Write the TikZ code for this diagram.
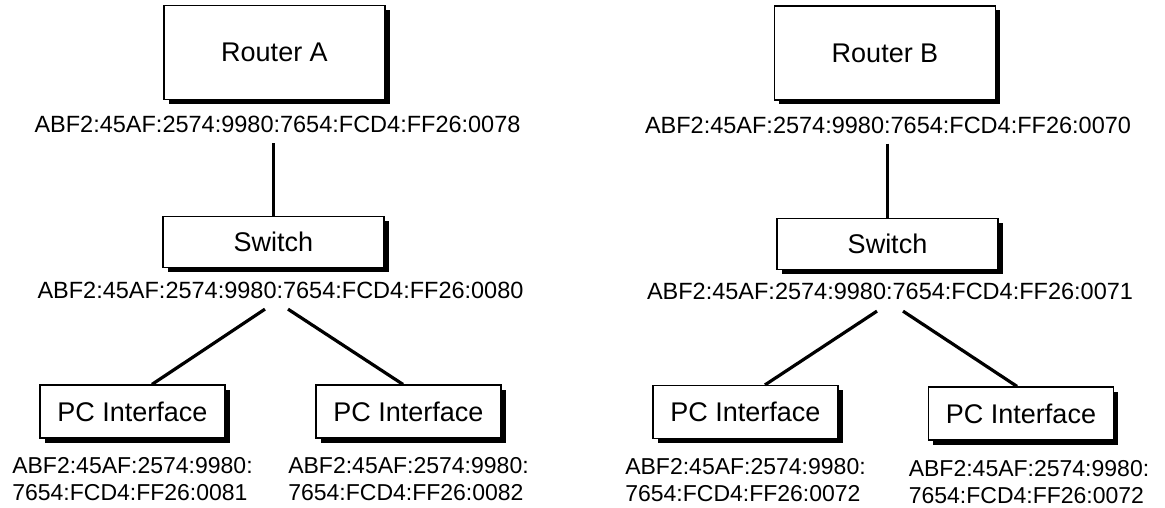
\documentclass[tikz,border=0pt]{standalone}
\usepackage{fontspec}
\setmainfont{Liberation Sans}
\usetikzlibrary{positioning,shadows}

\begin{document}
\begin{tikzpicture}[
    x=1pt, y=1pt,
    device/.style={draw=black, line width=1.2pt, fill=white, inner sep=0pt,
        drop shadow={shadow xshift=4.5pt, shadow yshift=-4.5pt, fill=black, opacity=1},
        font=\fontsize{27}{32}\selectfont},
    router/.style={device, minimum width=221pt, minimum height=94pt},
    switchbox/.style={device, minimum width=221pt, minimum height=51pt},
    pcbox/.style={device, minimum width=185pt, minimum height=53pt},
    addr/.style={inner sep=0pt, font=\fontsize{23.5}{27}\selectfont},
    pcaddr/.style={inner sep=0pt, align=left, font=\fontsize{23}{27}\selectfont},
    link/.style={line width=3.2pt}
]
\useasboundingbox (0,0) rectangle (1165,-508);

% network A
\node[router] (routerA) at (274.5,-52.5) {Router A};
\node[addr, below=16pt of routerA, xshift=3pt] (addrRA) {ABF2:45AF:2574:9980:7654:FCD4:FF26:0078};
\node[switchbox] (switchA) at (273.5,-242) {Switch};
\node[addr, below=14pt of switchA, xshift=7pt] (addrSA) {ABF2:45AF:2574:9980:7654:FCD4:FF26:0080};
\node[pcbox] (pcA1) at (132.5,-411.5) {PC Interface};
\node[pcbox] (pcA2) at (408.5,-411.5) {PC Interface};
\node[pcaddr, below=19pt of pcA1] (addrPA1) {ABF2:45AF:2574:9980:\\7654:FCD4:FF26:0081};
\node[pcaddr, below=19pt of pcA2] (addrPA2) {ABF2:45AF:2574:9980:\\7654:FCD4:FF26:0082};

\coordinate (upA) at ([yshift=-10pt]addrRA.south);
\coordinate (fanA1) at ([xshift=-15.5pt,yshift=-10pt]addrSA.south);
\coordinate (fanA2) at ([xshift=7.5pt,yshift=-10pt]addrSA.south);
\draw[link] (upA -| switchA.north) -- (switchA.north);
\draw[link] (fanA1) -- ([xshift=19.5pt]pcA1.north);
\draw[link] (fanA2) -- ([xshift=-5.5pt]pcA2.north);

% network B
\node[router] (routerB) at (885,-53) {Router B};
\node[addr, below=16pt of routerB, xshift=3pt] (addrRB) {ABF2:45AF:2574:9980:7654:FCD4:FF26:0070};
\node[switchbox] (switchB) at (887.5,-244) {Switch};
\node[addr, below=13pt of switchB, xshift=2.5pt] (addrSB) {ABF2:45AF:2574:9980:7654:FCD4:FF26:0071};
\node[pcbox] (pcB1) at (745.5,-412) {PC Interface};
\node[pcbox] (pcB2) at (1021,-413.5) {PC Interface};
\node[pcaddr, below=19pt of pcB1] (addrPB1) {ABF2:45AF:2574:9980:\\7654:FCD4:FF26:0072};
\node[pcaddr, below=20pt of pcB2, xshift=8pt] (addrPB2) {ABF2:45AF:2574:9980:\\7654:FCD4:FF26:0072};

\coordinate (upB) at ([yshift=-10pt]addrRB.south);
\coordinate (fanB1) at ([xshift=-13pt,yshift=-11pt]addrSB.south);
\coordinate (fanB2) at ([xshift=13pt,yshift=-11pt]addrSB.south);
\draw[link] (upB -| switchB.north) -- (switchB.north);
\draw[link] (fanB1) -- ([xshift=19.5pt]pcB1.north);
\draw[link] (fanB2) -- ([xshift=-4pt]pcB2.north);
\end{tikzpicture}
\end{document}
